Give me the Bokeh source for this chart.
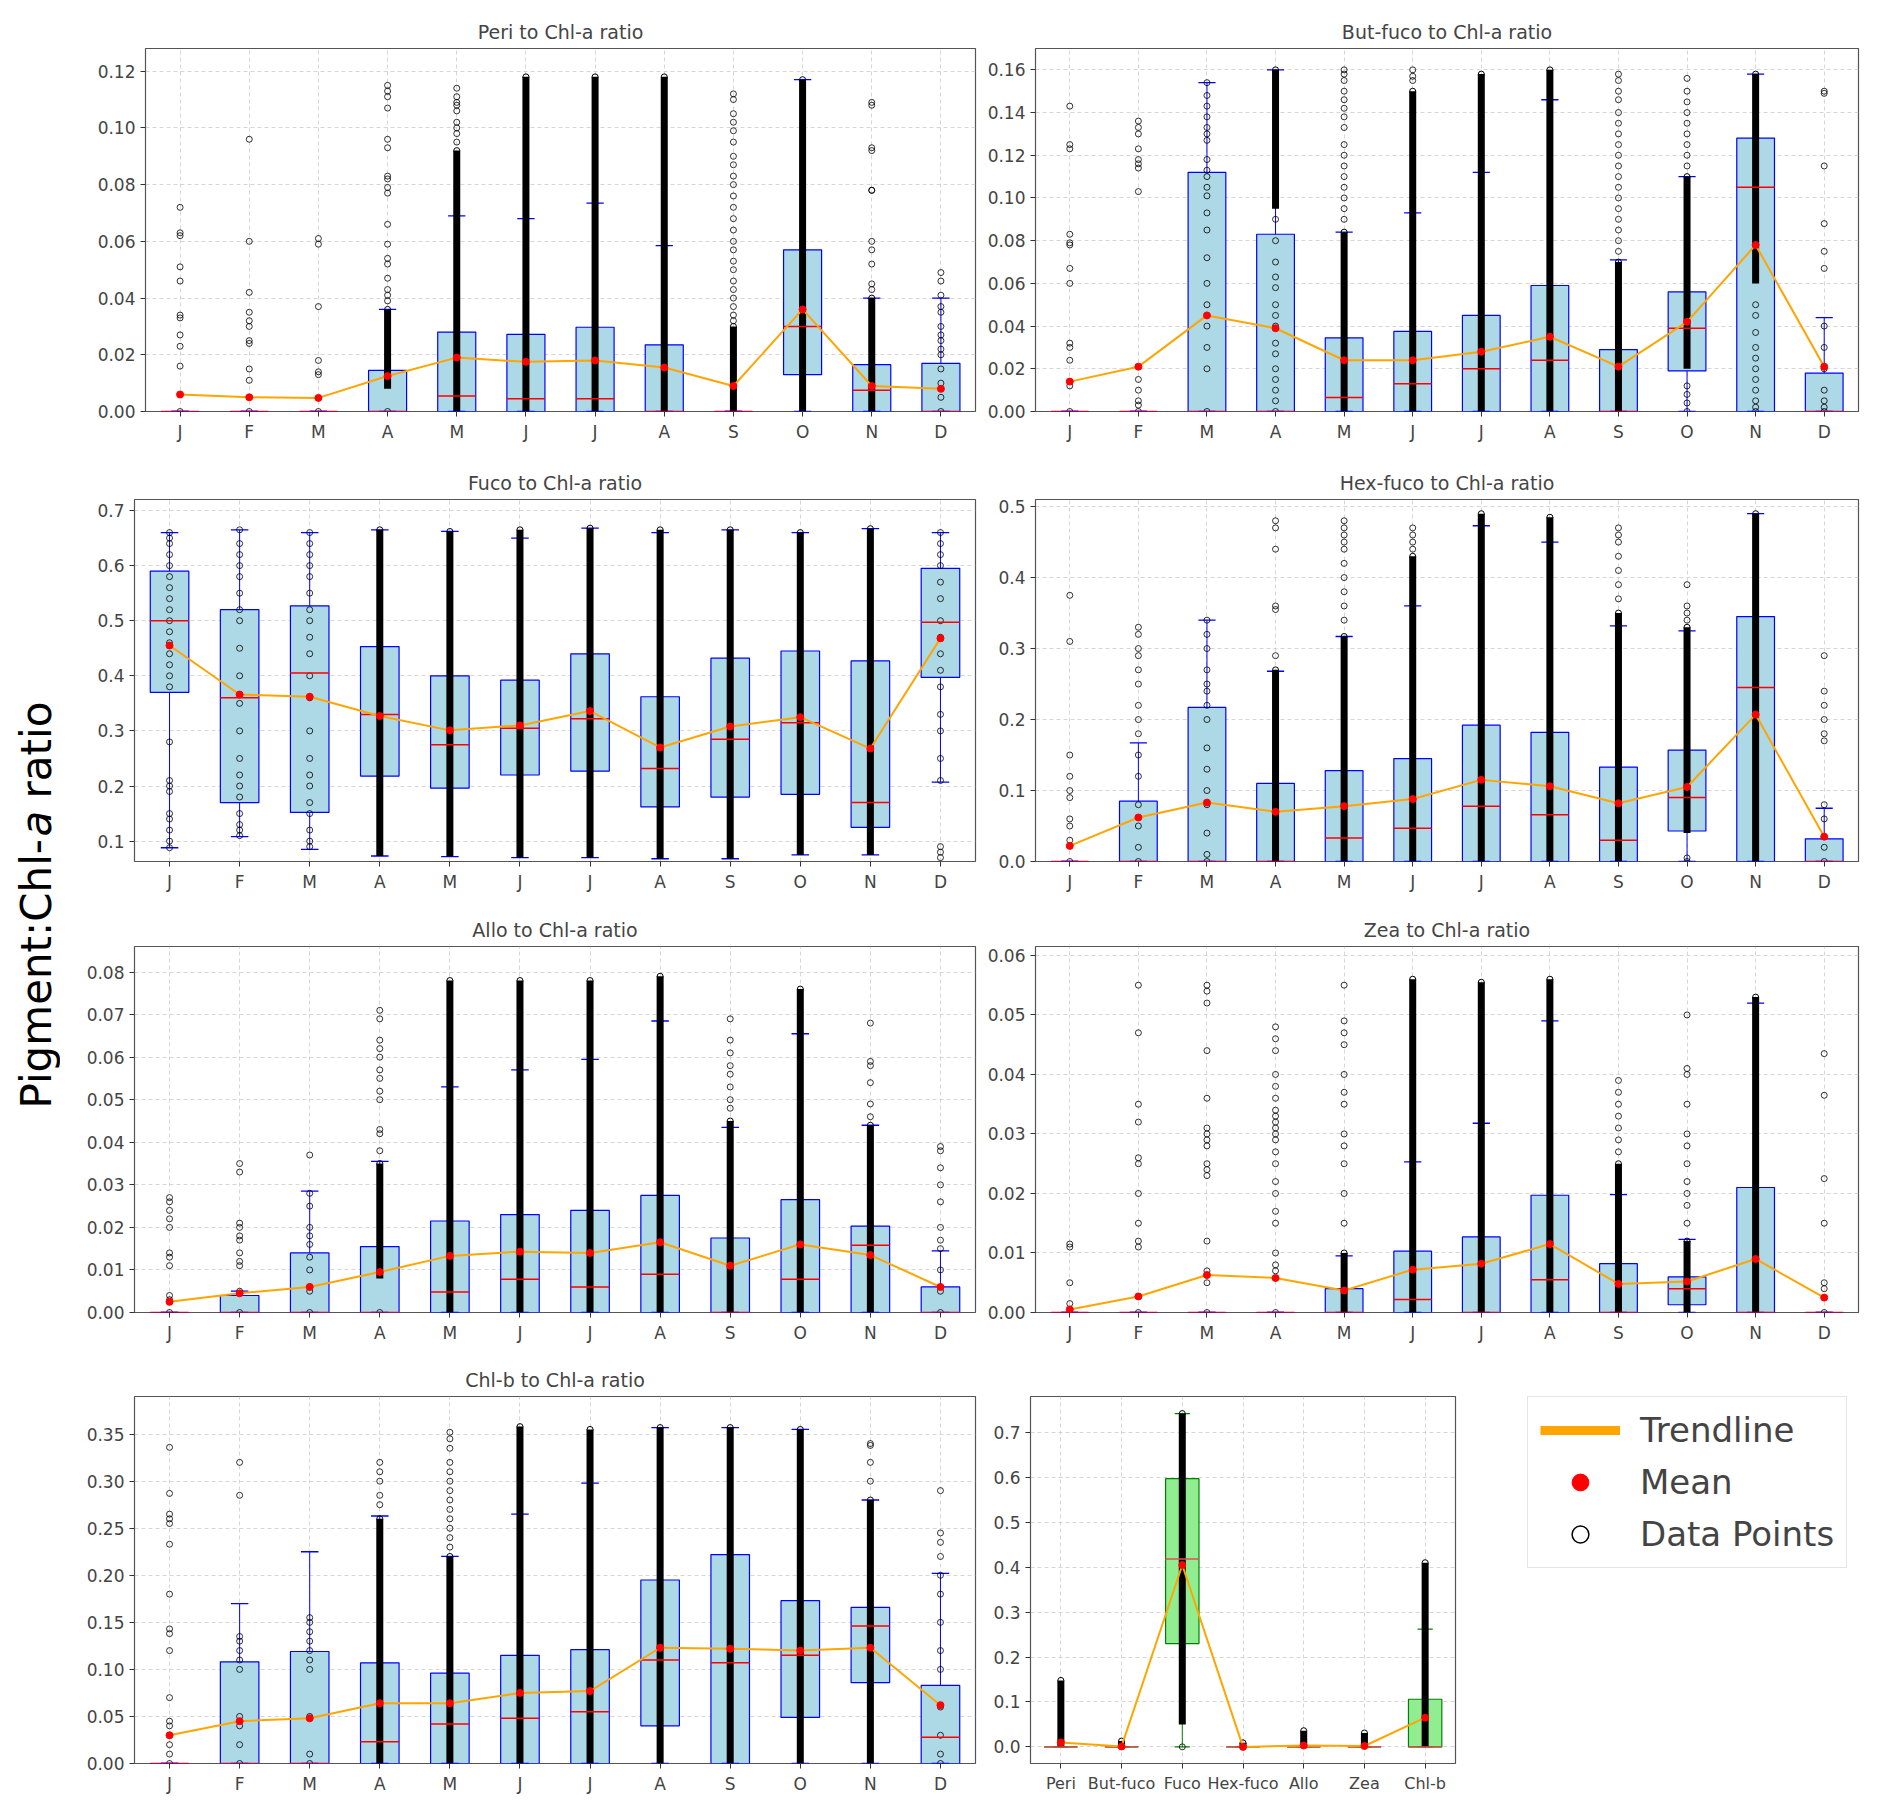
import math
from bokeh.plotting import figure
from bokeh.layouts import row, column
from bokeh.models import (Range1d, FixedTicker, NumeralTickFormatter, ColumnDataSource,
                          Legend, LegendItem)
from bokeh.core.properties import value
from bokeh.embed import file_html
from bokeh.resources import INLINE

NAN = float("nan")
months = ["J", "F", "M", "A", "M", "J", "J", "A", "S", "O", "N", "D"]

# ---------------- Peri ----------------
peri_q1 = [0, 0, 0, 0, 0, 0, 0, 0, 0, .013, 0, 0]
peri_med = [0, 0, 0, 0, .0055, .0045, .0045, 0, 0, .030, .0075, 0]
peri_q3 = [0, 0, 0, .0145, .028, .0272, .0297, .0235, 0, .057, .0165, .017]
peri_wlo = [0, 0, 0, 0, 0, 0, 0, 0, 0, 0, 0, 0]
peri_whi = [0, 0, 0, .036, .069, .068, .0735, .0585, 0, .117, .040, .040]
peri_mean = [.006, .005, .0048, .0125, .019, .0175, .018, .0155, .009, .036, .009, .008]
peri_dlo = [NAN, NAN, NAN, .008, 0, 0, 0, 0, 0, 0, 0, NAN]
peri_dhi = [NAN, NAN, NAN, .036, .092, .118, .118, .118, .03, .117, .040, NAN]
peri_out = [
    [.072, .063, .062, .051, .046, .034, .033, .027, .023, .016, 0],
    [.096, .060, .042, .035, .032, .030, .025, .024, .015, .011, 0],
    [.061, .059, .037, .018, .014, .013, 0],
    [.115, .113, .111, .107, .096, .093, .083, .082, .079, .077, .066, .059, .054, .052, .047, .043, .041, .039, 0],
    [.114, .111, .109, .108, .106, .102, .100, .098, .095],
    [], [], [],
    [.112, .110, .105, .102, .099, .095, .090, .087, .083, .080, .076, .072, .068, .064, .060, .057, .053, .050, .046, .043, .040, .037, .034, .032],
    [],
    [.109, .108, .093, .092, .078, .078, .060, .057, .052, .045, .043],
    [.049, .046, .041, .037, .035, .030, .027, .025, .022, .020, .015, .010, .005, 0],
]

# ---------------- But-fuco ----------------
bf_q1 = [0, 0, 0, 0, 0, 0, 0, 0, 0, .019, 0, 0]
bf_med = [0, 0, 0, 0, .0065, .013, .020, .024, 0, .039, .105, 0]
bf_q3 = [0, 0, .112, .083, .0345, .0375, .045, .059, .029, .056, .128, .018]
bf_wlo = [0, 0, 0, 0, 0, 0, 0, 0, 0, 0, 0, 0]
bf_whi = [0, 0, .154, .160, .084, .093, .112, .146, .071, .110, .158, .044]
bf_mean = [.014, .021, .045, .039, .024, .024, .028, .035, .021, .042, .078, .021]
bf_dlo = [NAN, NAN, NAN, .095, 0, 0, 0, 0, 0, .02, .06, NAN]
bf_dhi = [NAN, NAN, NAN, .160, .084, .150, .158, .160, .070, .110, .158, NAN]
bf_out = [
    [.143, .125, .123, .083, .079, .078, .067, .060, .032, .030, .024, .012, 0],
    [.136, .133, .130, .123, .118, .116, .114, .103, .015, .010, .005, .003, 0],
    [.154, .148, .143, .138, .133, .130, .127, .118, .113, .110, .105, .101, .093, .085, .072, .060, .050, .040, .030, .020, 0],
    [.090, .080, .070, .063, .058, .050, .045, .040, .032, .027, .020, .015, .010, .005, 0],
    [.160, .158, .155, .150, .146, .142, .138, .133, .125, .120, .115, .110, .105, .100, .095, .090],
    [.160, .157, .155],
    [],
    [],
    [.158, .155, .150, .146, .140, .135, .130, .125, .120, .115, .110, .105, .100, .095, .090, .085, .080, .075],
    [.156, .150, .145, .140, .135, .130, .125, .120, .115, .012, .008, .004, 0],
    [.050, .045, .037, .030, .025, .020, .015, .010, .005, .002, 0],
    [.150, .149, .115, .088, .075, .067, .040, .030, .020, .010, .005, .002, 0],
]

# ---------------- Fuco ----------------
fu_q1 = [.37, .17, .152, .218, .196, .22, .227, .162, .18, .185, .125, .397]
fu_med = [.50, .36, .405, .33, .275, .305, .322, .232, .285, .315, .17, .497]
fu_q3 = [.59, .52, .527, .453, .40, .392, .44, .362, .432, .445, .427, .595]
fu_wlo = [.088, .108, .085, .073, .072, .07, .07, .068, .068, .075, .075, .207]
fu_whi = [.66, .665, .66, .665, .662, .65, .668, .66, .665, .66, .667, .66]
fu_mean = [.455, .366, .362, .327, .301, .31, .336, .27, .308, .325, .268, .468]
fu_dlo = [NAN, NAN, NAN, .073, .072, .07, .07, .068, .068, .075, .075, NAN]
fu_dhi = [NAN, NAN, NAN, .665, .662, .665, .668, .665, .665, .66, .667, NAN]
fu_out = [
    [.66, .65, .64, .62, .60, .58, .56, .54, .52, .50, .48, .46, .44, .42, .40, .38, .28, .21, .20, .19, .15, .14, .12, .10, .088],
    [.665, .64, .62, .60, .58, .55, .52, .50, .45, .40, .35, .30, .25, .22, .20, .18, .15, .13, .12, .11],
    [.66, .64, .62, .60, .58, .55, .52, .50, .47, .44, .40, .36, .30, .25, .22, .20, .17, .15, .12, .10, .09],
    [], [], [], [], [], [], [], [],
    [.66, .64, .62, .60, .57, .54, .50, .47, .44, .41, .38, .33, .30, .25, .21, .09, .08, .07],
]

# ---------------- Hex-fuco ----------------
hx_q1 = [0, 0, 0, 0, 0, 0, 0, 0, 0, .043, 0, 0]
hx_med = [0, 0, 0, 0, .033, .047, .078, .066, .030, .090, .245, 0]
hx_q3 = [0, .085, .217, .110, .128, .145, .192, .182, .133, .157, .345, .032]
hx_wlo = [0, 0, 0, 0, 0, 0, 0, 0, 0, 0, 0, 0]
hx_whi = [0, .167, .340, .268, .317, .360, .473, .450, .332, .325, .490, .075]
hx_mean = [.022, .062, .083, .070, .078, .088, .115, .106, .082, .105, .207, .035]
hx_dlo = [NAN, NAN, NAN, 0, 0, 0, 0, 0, 0, .04, 0, NAN]
hx_dhi = [NAN, NAN, NAN, .270, .317, .430, .490, .485, .350, .330, .490, NAN]
hx_out = [
    [.375, .310, .150, .120, .100, .090, .060, .050, .030, 0],
    [.330, .320, .300, .290, .270, .250, .220, .200, .180, .150, .120, .080, .050, .020, 0],
    [.340, .320, .300, .270, .250, .240, .220, .200, .160, .130, .100, .080, .040, .010, 0],
    [.480, .470, .440, .360, .355, .290],
    [.480, .470, .460, .450, .440, .420, .400, .380, .360, .340],
    [.470, .460, .450, .440],
    [], [],
    [.470, .460, .450, .430, .410, .390, .370],
    [.390, .360, .350, .340, .005, 0],
    [],
    [.290, .240, .220, .200, .180, .170, .080, .060, .020, 0],
]

# ---------------- Allo ----------------
al_q1 = [0] * 12
al_med = [0, 0, 0, 0, .0048, .0078, .006, .009, 0, .0078, .0158, 0]
al_q3 = [0, .004, .014, .0155, .0215, .023, .024, .0275, .0175, .0265, .0203, .006]
al_wlo = [0] * 12
al_whi = [0, .005, .0285, .0355, .053, .057, .0595, .0685, .0435, .0655, .044, .0145]
al_mean = [.0025, .0045, .006, .0095, .0133, .0143, .014, .0165, .011, .016, .0135, .006]
al_dlo = [NAN, NAN, NAN, .008, 0, 0, 0, 0, 0, 0, 0, NAN]
al_dhi = [NAN, NAN, NAN, .035, .078, .078, .078, .079, .045, .076, .044, NAN]
al_out = [
    [.027, .026, .024, .022, .020, .014, .013, .011, .004, .003, 0],
    [.035, .033, .021, .020, .018, .017, .014, .012, .011, .005, 0],
    [.037, .028, .025, .020, .018, .016, .013, .010, .006, .005, 0],
    [.071, .069, .064, .062, .060, .057, .055, .052, .050, .043, .042, .038, 0],
    [], [], [], [],
    [.069, .064, .061, .058, .056, .053, .050, .048],
    [],
    [.068, .059, .058, .054, .049, .046],
    [.039, .038, .034, .030, .026, .020, .017, .015, .010, .005, 0],
]

# ---------------- Zea ----------------
ze_q1 = [0, 0, 0, 0, 0, 0, 0, 0, 0, .0013, 0, 0]
ze_med = [0, 0, 0, 0, 0, .0022, 0, .0055, 0, .004, 0, 0]
ze_q3 = [0, 0, 0, 0, .004, .0103, .0127, .0197, .0082, .006, .021, 0]
ze_wlo = [0, 0, 0, 0, 0, 0, 0, 0, 0, 0, 0, 0]
ze_whi = [0, 0, 0, 0, .0095, .0253, .0318, .049, .0198, .0123, .052, 0]
ze_mean = [.0005, .0027, .0063, .0058, .0037, .0072, .0082, .0115, .0048, .0052, .009, .0025]
ze_dlo = [NAN, NAN, NAN, NAN, 0, 0, 0, 0, 0, 0, 0, NAN]
ze_dhi = [NAN, NAN, NAN, NAN, .010, .056, .0555, .056, .025, .012, .053, NAN]
ze_out = [
    [.0115, .011, .005, .0015, 0],
    [.055, .047, .035, .032, .026, .025, .020, .015, .012, .011, 0],
    [.055, .054, .052, .044, .036, .031, .030, .029, .028, .025, .024, .023, .012, .007, .005, 0],
    [.048, .046, .044, .040, .038, .036, .034, .033, .032, .031, .030, .029, .027, .025, .022, .020, .017, .015, .010, .008, .007, 0],
    [.055, .049, .047, .045, .040, .037, .035, .030, .028, .025, .020, .015],
    [], [], [],
    [.039, .037, .035, .033, .031, .029, .027],
    [.050, .041, .040, .035, .030, .028, .025, .022, .020, .018, .015],
    [],
    [.0435, .0365, .0225, .015, .005, .004, 0],
]

# ---------------- Chl-b ----------------
cb_q1 = [0, 0, 0, 0, 0, 0, 0, .040, 0, .049, .086, 0]
cb_med = [0, 0, 0, .023, .042, .048, .055, .110, .107, .115, .146, .028]
cb_q3 = [0, .108, .119, .107, .096, .115, .121, .195, .222, .173, .166, .083]
cb_wlo = [0] * 12
cb_whi = [0, .170, .225, .263, .220, .265, .298, .357, .357, .355, .280, .202]
cb_mean = [.030, .045, .048, .064, .064, .075, .077, .123, .122, .120, .123, .062]
cb_dlo = [NAN, NAN, NAN, 0, 0, 0, 0, 0, 0, 0, 0, NAN]
cb_dhi = [NAN, NAN, NAN, .260, .220, .358, .355, .357, .357, .355, .280, NAN]
cb_out = [
    [.336, .287, .265, .260, .255, .233, .180, .143, .138, .120, .070, .045, .040, .020, .010, 0],
    [.320, .285, .135, .130, .120, .110, .100, .050, .040, .020, 0],
    [.155, .150, .140, .130, .120, .110, .100, .050, .010, 0],
    [.320, .310, .300, .285, .275],
    [.352, .345, .335, .320, .310, .300, .290, .280, .270, .260, .250, .240, .230],
    [], [], [], [], [],
    [.340, .338, .320, .300],
    [.290, .245, .235, .220, .200, .180, .150, .120, .100, .060, .030, .010, 0],
]

# ---------------- Summary ----------------
pig_names = ["Peri", "But-fuco", "Fuco", "Hex-fuco", "Allo", "Zea", "Chl-b"]
sm_q1 = [0, 0, .230, 0, 0, 0, 0]
sm_med = [0, 0, .418, 0, 0, 0, 0]
sm_q3 = [0, 0, .597, 0, 0, 0, .106]
sm_wlo = [0, 0, 0, 0, 0, 0, 0]
sm_whi = [0, 0, .742, 0, 0, 0, .262]
sm_mean = [.010, .001, .405, 0, .003, .002, .065]
sm_dlo = [0, 0, .05, 0, 0, 0, 0]
sm_dhi = [.148, .013, .742, .009, .036, .031, .410]
sm_out = [[], [], [0], [], [], [], []]

legend_labels = ["Trendline", "Mean", "Data Points"]
ylabel_parts = ["Pigment:Chl-", "a", "ratio"]

FONT = "DejaVu Sans"


def panel(title, q1, med, q3, wlo, whi, mean, dlo, dhi, outs, labels, ylo, yhi, ticks, fmt,
          width, height, bl, bt, bb, br=8, fill="lightblue", line="blue", medc="red"):
    n = len(q1)
    xs = list(range(1, n + 1))
    p = figure(width=width, height=height, output_backend="svg", toolbar_location=None,
               x_range=Range1d(0.5, n + 0.5), y_range=Range1d(ylo, yhi),
               min_border_left=bl, min_border_top=bt, min_border_bottom=bb, min_border_right=br)
    if title:
        p.title.text = title
        p.title.align = "center"
        p.title.text_font = FONT
        p.title.text_font_size = "19px"
        p.title.text_font_style = "normal"
        p.title.standoff = 12
    p.outline_line_color = "#555555"
    p.outline_line_width = 1.2
    for g in (p.xgrid, p.ygrid):
        g.grid_line_color = "#cccccc"
        g.grid_line_dash = "4 3"
        g.grid_line_alpha = 0.8
    p.xaxis.ticker = FixedTicker(ticks=xs)
    p.xaxis.major_label_overrides = {i + 1: labels[i] for i in range(n)}
    p.yaxis.ticker = FixedTicker(ticks=ticks)
    p.yaxis.formatter = NumeralTickFormatter(format=fmt)
    for ax in (p.xaxis, p.yaxis):
        ax.major_label_text_font = FONT
        ax.major_label_text_font_size = "17px"
        ax.axis_line_color = None
        ax.major_tick_line_color = "#333333"
        ax.minor_tick_line_color = None
        ax.major_tick_out = 5
        ax.major_tick_in = 0
    src = ColumnDataSource(dict(x=xs, q1=q1, med=med, q3=q3, wlo=wlo, whi=whi, mean=mean,
                                dlo=dlo, dhi=dhi))
    p.vbar(x="x", width=0.55, bottom="q1", top="q3", source=src, fill_color=fill,
           line_color=line, line_width=1.2)
    p.segment(x0="x", y0="q3", x1="x", y1="whi", source=src, line_color=line, line_width=1)
    p.segment(x0="x", y0="q1", x1="x", y1="wlo", source=src, line_color=line, line_width=1)
    p.vbar(x="x", width=0.25, bottom="whi", top="whi", source=src, fill_color=None,
           line_color=line, line_width=1.3)
    p.vbar(x="x", width=0.25, bottom="wlo", top="wlo", source=src, fill_color=None,
           line_color=line, line_width=1.3)
    p.segment(x0="x", y0="dlo", x1="x", y1="dhi", source=src, line_color="black", line_width=7)
    ox, oy = [], []
    for i, vals in enumerate(outs):
        for v in vals:
            ox.append(i + 1)
            oy.append(v)
    p.scatter(ox, oy, size=6, fill_color=None, line_color="black", line_width=1, line_alpha=0.8)
    p.scatter(x="x", y="dhi", source=src, size=6, fill_color=None, line_color="black")
    p.vbar(x="x", width=0.55, bottom="med", top="med", source=src, fill_color=None,
           line_color=medc, line_width=1.5)
    p.line(x="x", y="mean", source=src, line_color="orange", line_width=2)
    p.scatter(x="x", y="mean", source=src, size=7, fill_color="red", line_color="red")
    return p


WL, WR = 917, 889
LB0, LB = 85, 74
RB = 58


def t(a, b, s):
    out = []
    v = a
    while v <= b + 1e-9:
        out.append(round(v, 4))
        v += s
    return out


p1 = panel("Peri to Chl-a ratio", peri_q1, peri_med, peri_q3, peri_wlo, peri_whi, peri_mean,
           peri_dlo, peri_dhi, peri_out, months, 0, 0.128, t(0, .12, .02), "0.00",
           WL, 450, LB0, 48, 39, br=2)
p2 = panel("But-fuco to Chl-a ratio", bf_q1, bf_med, bf_q3, bf_wlo, bf_whi, bf_mean,
           bf_dlo, bf_dhi, bf_out, months, 0, 0.17, t(0, .16, .02), "0.00",
           WR, 450, RB, 48, 39)
p3 = panel("Fuco to Chl-a ratio", fu_q1, fu_med, fu_q3, fu_wlo, fu_whi, fu_mean,
           fu_dlo, fu_dhi, fu_out, months, 0.063, 0.72, t(.1, .7, .1), "0.0",
           WL, 450, LB, 49, 39, br=2)
p4 = panel("Hex-fuco to Chl-a ratio", hx_q1, hx_med, hx_q3, hx_wlo, hx_whi, hx_mean,
           hx_dlo, hx_dhi, hx_out, months, 0, 0.51, t(0, .5, .1), "0.0",
           WR, 450, RB, 49, 39)
p5 = panel("Allo to Chl-a ratio", al_q1, al_med, al_q3, al_wlo, al_whi, al_mean,
           al_dlo, al_dhi, al_out, months, 0, 0.086, t(0, .08, .01), "0.00",
           WL, 450, LB, 46, 38, br=2)
p6 = panel("Zea to Chl-a ratio", ze_q1, ze_med, ze_q3, ze_wlo, ze_whi, ze_mean,
           ze_dlo, ze_dhi, ze_out, months, 0, 0.0615, t(0, .06, .01), "0.00",
           WR, 450, RB, 46, 38)
p7 = panel("Chl-b to Chl-a ratio", cb_q1, cb_med, cb_q3, cb_wlo, cb_whi, cb_mean,
           cb_dlo, cb_dhi, cb_out, months, 0, 0.39, t(0, .35, .05), "0.00",
           WL, 458, LB, 44, 45, br=2)
p8 = panel(None, sm_q1, sm_med, sm_q3, sm_wlo, sm_whi, sm_mean, sm_dlo, sm_dhi, sm_out,
           pig_names, -0.037, 0.78, t(0, .7, .1), "0.0",
           504, 458, 53, 46, 30, br=26, fill="lightgreen", line="green", medc="#e05050")
p8.xaxis.major_label_text_font_size = "16px"

# legend figure
pl = figure(width=385, height=458, output_backend="svg", toolbar_location=None,
            x_range=Range1d(0, 1), y_range=Range1d(0, 1),
            min_border_left=46, min_border_top=34, min_border_right=2, min_border_bottom=2)
pl.axis.visible = False
pl.grid.visible = False
pl.outline_line_color = None
r1 = pl.line([5, 6], [5, 5], line_color="orange", line_width=9)
r2 = pl.scatter([5], [5], size=30, fill_color="red", line_color="red")
r3 = pl.scatter([5], [5], size=30, fill_color="white", line_color="black", line_width=1.5)
leg = Legend(items=[LegendItem(label=legend_labels[0], renderers=[r1]),
                    LegendItem(label=legend_labels[1], renderers=[r2]),
                    LegendItem(label=legend_labels[2], renderers=[r3])],
             location="top_left", margin=0, label_text_font=FONT, label_text_font_size="34px",
             glyph_width=80, glyph_height=42, spacing=10, padding=12, label_standoff=20,
             label_height=42,
             border_line_color="#cccccc", border_line_width=1.5, background_fill_color="white")
pl.add_layout(leg, "center")

# y label figure
H = 450 * 3 + 458
py = figure(width=60, height=H, output_backend="svg", toolbar_location=None,
            x_range=Range1d(0, 60), y_range=Range1d(0, H), min_border=0)
py.axis.visible = False
py.grid.visible = False
py.outline_line_color = None
ylab_pos = [700, 972, 1010]
ylab_style = ["normal", "italic", "normal"]
for txt, yy, st in zip(ylabel_parts, ylab_pos, ylab_style):
    py.text(x=[36], y=[yy], text=[txt], angle=math.pi / 2, text_align="left",
            text_baseline="middle", text_font=value(FONT), text_font_size="42px",
            text_font_style=st, text_color="black")

grid = column(row(p1, p2), row(p3, p4), row(p5, p6), row(p7, p8, pl))
lay = row(py, grid)
open("out.html", "w").write(file_html(lay, INLINE))
